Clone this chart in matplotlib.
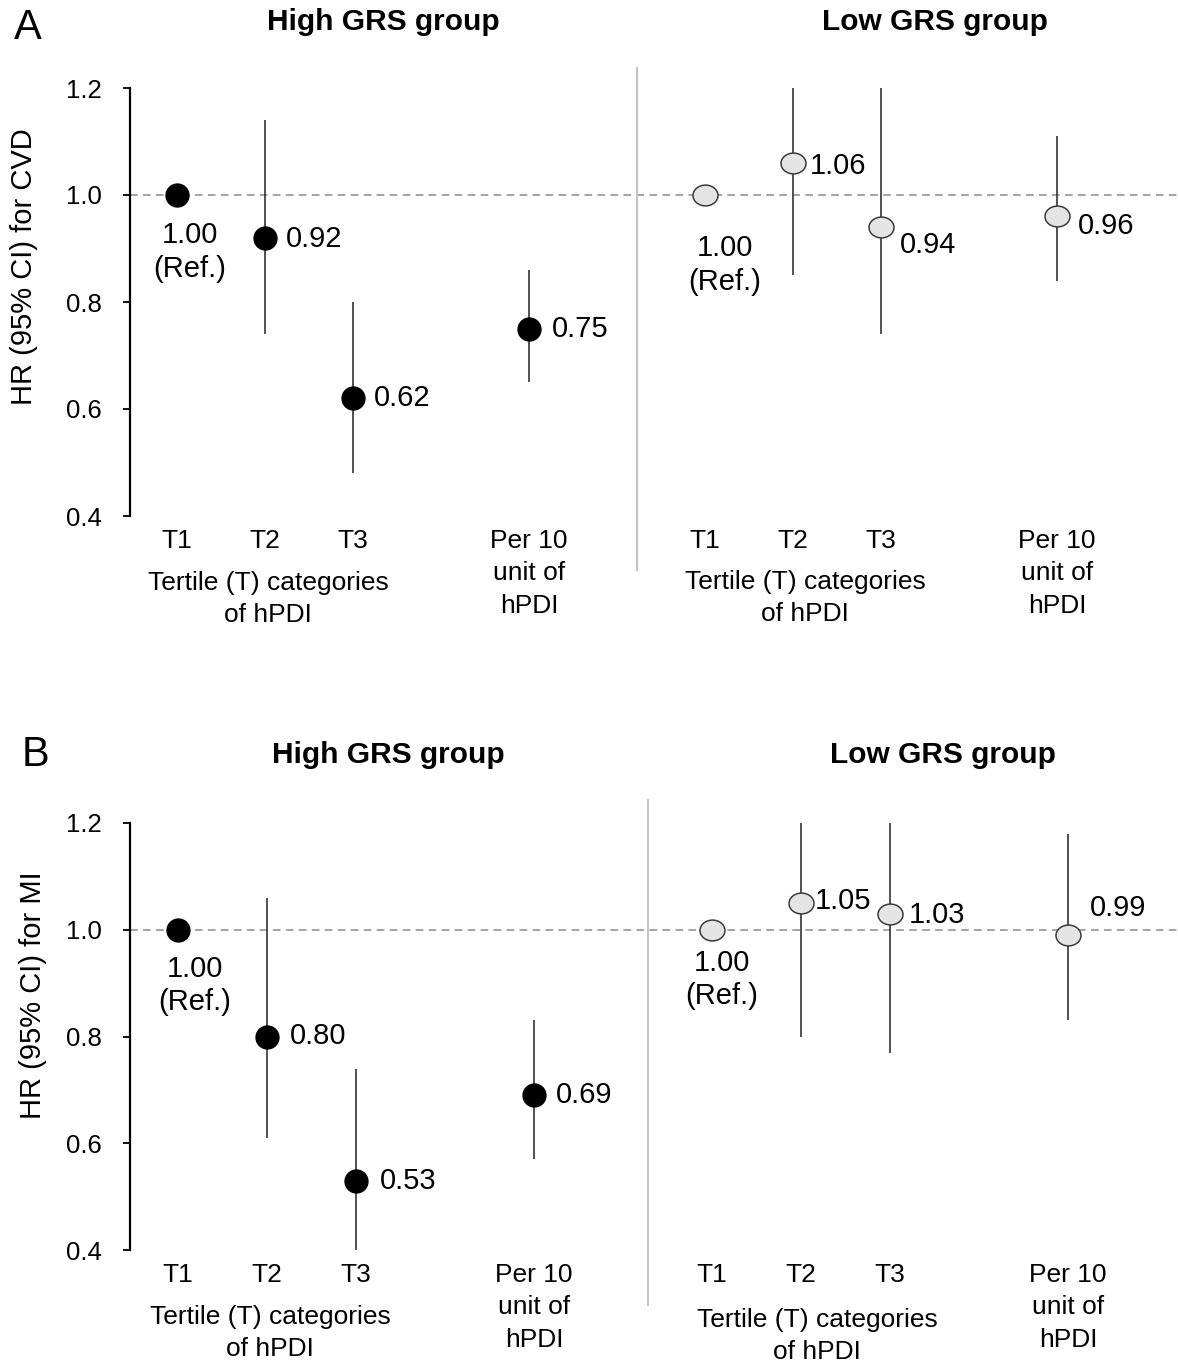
import numpy as np
import matplotlib
matplotlib.use('Agg')
import matplotlib.pyplot as plt
from matplotlib.path import Path
from matplotlib.transforms import Affine2D
from matplotlib.lines import Line2D

plt.rcParams['font.family'] = ['Liberation Sans', 'DejaVu Sans']

categories = ['T1', 'T2', 'T3', 'Per 10\nunit of\nhPDI']
value_labels_ref = '1.00\n(Ref.)'

# panel A: CVD
cvd_high_hr = [1.00, 0.92, 0.62, 0.75]
cvd_high_lo = [np.nan, 0.74, 0.48, 0.65]
cvd_high_hi = [np.nan, 1.14, 0.80, 0.86]
cvd_low_hr = [1.00, 1.06, 0.94, 0.96]
cvd_low_lo = [np.nan, 0.85, 0.74, 0.84]
cvd_low_hi = [np.nan, 1.30, 1.28, 1.11]

# panel B: MI
mi_high_hr = [1.00, 0.80, 0.53, 0.69]
mi_high_lo = [np.nan, 0.61, 0.40, 0.57]
mi_high_hi = [np.nan, 1.06, 0.74, 0.83]
mi_low_hr = [1.00, 1.05, 1.03, 0.99]
mi_low_lo = [np.nan, 0.80, 0.77, 0.83]
mi_low_hi = [np.nan, 1.30, 1.32, 1.18]

yticks = [0.4, 0.6, 0.8, 1.0, 1.2]

W, H = 1178, 1365
fig = plt.figure(figsize=(W / 100, H / 100), dpi=100)

def fx(px):
    return px / W

def fy(py):
    return 1 - py / H

ellipse = Path(Affine2D().scale(1.2, 1.0).transform(Path.unit_circle().vertices),
               Path.unit_circle().codes)

pos_high = np.array([1, 2, 3, 5])
pos_low = pos_high + 6


def draw_panel(box, t1px, step, hi, lo, off_hi, off_lo):
    left, top, right, bottom = box
    ax = fig.add_axes([fx(left), fy(bottom), fx(right - left), (bottom - top) / H])
    ax.set_xlim(1 - (t1px - left) / step, 1 + (right - t1px) / step)
    ax.set_ylim(0.4, 1.2)
    ax.axhline(1.0, color='#8a8a8a', lw=1.1, ls=(0, (5, 3.5)), zorder=1)

    for pos, (hr, l, u), offs, low in [(pos_high, hi, off_hi, False),
                                       (pos_low, lo, off_lo, True)]:
        ax.vlines(pos, l, u, color='#333333', lw=1.2, zorder=2)
        if low:
            ax.plot(pos, hr, ls='none', marker=ellipse, ms=18, mfc='#e4e4e4',
                    mec='#3a3a3a', mew=1.1, zorder=3)
        else:
            ax.plot(pos, hr, ls='none', marker='o', ms=16.5, mfc='black',
                    mec='black', zorder=3)
        for i, (p, v) in enumerate(zip(pos, hr)):
            dx, dy = offs[i]
            if i == 0:
                ax.annotate(value_labels_ref, (p, v), xytext=(dx, dy),
                            textcoords='offset pixels', ha='center', va='center',
                            fontsize=21, linespacing=1.25)
            else:
                ax.annotate('%.2f' % v, (p, v), xytext=(dx, dy),
                            textcoords='offset pixels', ha='left', va='center',
                            fontsize=21)

    ax.set_xticks(np.concatenate([pos_high, pos_low]))
    ax.set_xticklabels(categories * 2, fontsize=19, linespacing=1.45)
    ax.tick_params(axis='x', length=0, pad=9)
    ax.set_yticks(yticks)
    ax.set_yticklabels(['%.1f' % t for t in yticks])
    ax.tick_params(axis='y', direction='out', length=5, width=1.3, pad=15,
                   labelsize=18.5)
    for s in ['top', 'right', 'bottom']:
        ax.spines[s].set_visible(False)
    ax.spines['left'].set_linewidth(1.6)
    return ax


draw_panel((130, 88, 1178, 516), 177, 88, (cvd_high_hr, cvd_high_lo, cvd_high_hi),
           (cvd_low_hr, cvd_low_lo, cvd_low_hi),
           [(13, -57), (21, -1), (21, 0), (23, 0)],
           [(20, -70), (17, -3), (19, -18), (21, -10)])
draw_panel((130, 823, 1178, 1250), 178, 89, (mi_high_hr, mi_high_lo, mi_high_hi),
           (mi_low_hr, mi_low_lo, mi_low_hi),
           [(17, -56), (23, 0), (24, 0), (22, 0)],
           [(10, -50), (14, 2), (19, -1), (22, 27)])

# separators
fig.add_artist(Line2D([fx(637), fx(637)], [fy(68), fy(570)], color='#c4c4c4', lw=1.5))
fig.add_artist(Line2D([fx(648), fx(648)], [fy(800), fy(1305)], color='#c4c4c4', lw=1.5))

# titles and labels
fig.text(fx(14), fy(28), 'A', fontsize=30, ha='left', va='center')
fig.text(fx(22), fy(755), 'B', fontsize=30, ha='left', va='center')
for x, y, s in [(383, 22, 'High GRS group'), (935, 22, 'Low GRS group'),
                (388, 755, 'High GRS group'), (943, 755, 'Low GRS group')]:
    fig.text(fx(x), fy(y), s, fontsize=21.5, fontweight='bold', ha='center', va='center')

fig.text(fx(24), fy(267), 'HR (95% CI) for CVD', fontsize=21, rotation=90,
         ha='center', va='center')
fig.text(fx(33), fy(995), 'HR (95% CI) for MI', fontsize=21, rotation=90,
         ha='center', va='center')

for x, y in [(268, 599), (805, 598), (270, 1333), (817, 1336)]:
    fig.text(fx(x), fy(y), 'Tertile (T) categories\nof hPDI', fontsize=19,
             ha='center', va='center', linespacing=1.4)

fig.savefig('out.png', dpi=100)
